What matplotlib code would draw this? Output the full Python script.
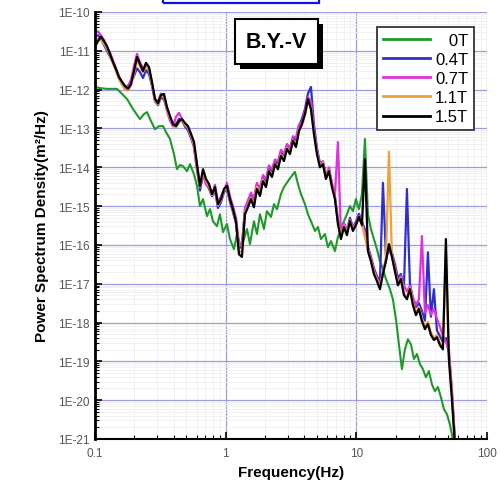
import numpy as np
import matplotlib
matplotlib.use("Agg")
import matplotlib.pyplot as plt
from matplotlib.patches import Rectangle
from matplotlib.ticker import LogLocator, NullFormatter, FixedLocator, FixedFormatter

plt.rcParams['font.family'] = ['Liberation Sans', 'DejaVu Sans']

# ---------------- data ----------------
series_labels = ['\u2008\u20070T', '0.4T', '0.7T', '1.1T', '1.5T']
series_colors = ['#1f9a2a', '#2f2fd0', '#e030e0', '#f0a038', '#000000']

freq_0T = [0.1, 0.1092, 0.1235, 0.1474, 0.1609, 0.1757, 0.1953, 0.2210, 0.2370, 0.2500,
           0.2683, 0.2878, 0.3089, 0.3314, 0.3556, 0.3749, 0.4022, 0.4240, 0.4470, 0.4713,
           0.5058, 0.5333, 0.5723, 0.6033, 0.6360, 0.6706, 0.7193, 0.7584, 0.7996, 0.8578,
           0.9045, 0.9535, 1.023, 1.079, 1.157, 1.220, 1.310, 1.380, 1.455, 1.534,
           1.646, 1.736, 1.830, 1.963, 2.070, 2.222, 2.342, 2.469, 2.649, 2.793,
           2.997, 3.159, 3.390, 3.574, 3.768, 4.044, 4.264, 4.495, 4.824, 5.085,
           5.360, 5.752, 6.064, 6.393, 6.860, 7.232, 7.625, 8.036, 8.475, 8.934,
           9.419, 9.929, 10.47, 11.04, 11.64, 12.27, 12.93, 13.64, 14.38, 15.16,
           15.98, 16.85, 18.07, 19.05, 20.09, 21.18, 22.33, 23.54, 24.82, 26.17,
           27.59, 29.09, 30.67, 32.33, 34.08, 35.94, 37.88, 39.94, 42.10, 44.39,
           46.80, 49.33, 52.01, 54.83, 56.80]

# log10 of the power spectral density
log_psd_0T = [-11.93, -11.96, -11.98, -11.98, -12.11, -12.24, -12.50, -12.76, -12.63, -12.58,
              -12.81, -13.02, -12.94, -12.94, -13.14, -13.27, -13.66, -14.05, -13.94, -13.97,
              -14.10, -13.92, -14.18, -14.48, -15.00, -14.82, -15.26, -15.08, -15.39, -15.52,
              -15.21, -15.67, -15.46, -15.85, -16.11, -15.72, -16.06, -15.85, -15.59, -15.98,
              -15.39, -15.72, -15.21, -15.59, -15.13, -15.28, -14.95, -15.08, -14.69, -14.51,
              -14.36, -14.25, -14.12, -14.43, -14.69, -14.95, -15.21, -15.39, -15.64, -15.54,
              -15.85, -15.72, -16.06, -15.90, -16.16, -15.80, -15.59, -15.39, -15.21, -15.00,
              -15.13, -14.82, -15.08, -14.69, -13.27, -15.21, -15.59, -15.85, -16.11, -16.42,
              -16.62, -16.88, -17.14, -17.40, -17.91, -18.56, -19.20, -18.69, -18.43, -18.56,
              -18.94, -18.81, -19.07, -19.20, -19.41, -19.25, -19.59, -19.77, -19.66, -19.92,
              -20.23, -20.36, -20.62, -21.01, -21.26]

freq_field = [0.1000, 0.1054, 0.1111, 0.1172, 0.1235, 0.1302, 0.1373, 0.1447, 0.1526, 0.1609,
              0.1696, 0.1788, 0.1885, 0.1988, 0.2096, 0.2210, 0.2330, 0.2456, 0.2590, 0.2730,
              0.2878, 0.3035, 0.3199, 0.3373, 0.3556, 0.3749, 0.3953, 0.4168, 0.4394, 0.4632,
              0.4884, 0.5149, 0.5429, 0.5723, 0.6034, 0.6362, 0.6707, 0.7071, 0.7455, 0.7860,
              0.8284, 0.8732, 0.9205, 0.9705, 1.023, 1.079, 1.137, 1.199, 1.264, 1.332,
              1.405, 1.481, 1.561, 1.646, 1.735, 1.830, 1.929, 2.034, 2.144, 2.261,
              2.384, 2.513, 2.649, 2.793, 2.944, 3.104, 3.273, 3.450, 3.638, 3.835,
              4.044, 4.263, 4.494, 4.738, 4.995, 5.266, 5.552, 5.853, 6.171, 6.506,
              6.859, 7.231, 7.624, 8.037, 8.474, 8.933, 9.418, 9.929, 10.47, 11.04,
              11.63, 12.27, 12.93, 13.63, 14.37, 15.16, 15.98, 16.85, 17.76, 18.73,
              19.74, 20.81, 21.94, 23.13, 24.39, 25.71, 27.11, 28.58, 30.13, 31.76,
              33.49, 35.30, 37.22, 39.24, 41.37, 43.61, 45.98, 48.47, 51.10, 53.87,
              56.80]

log_psd_04T = [-10.62, -10.60, -10.70, -10.85, -11.00, -11.15, -11.30, -11.50, -11.70, -11.85,
               -11.95, -11.90, -11.80, -11.65, -11.45, -11.55, -11.70, -11.50, -11.60, -11.90,
               -12.30, -12.40, -12.20, -12.25, -12.50, -12.75, -12.85, -12.90, -12.75, -12.80,
               -12.95, -13.05, -13.25, -13.45, -14.00, -14.60, -14.20, -14.40, -14.55, -14.75,
               -14.60, -15.05, -14.90, -14.65, -14.55, -14.90, -15.15, -15.45, -16.10, -16.00,
               -15.10, -14.90, -14.70, -14.85, -14.45, -14.60, -14.25, -14.40, -14.00, -14.10,
               -13.85, -13.90, -13.60, -13.70, -13.45, -13.55, -13.25, -13.30, -12.95, -12.75,
               -12.50, -12.10, -11.93, -12.90, -13.50, -13.90, -13.85, -14.20, -14.05, -14.45,
               -14.75, -15.35, -15.70, -15.45, -15.65, -15.30, -15.55, -15.40, -15.20, -15.40,
               -15.60, -16.05, -16.30, -16.60, -16.80, -16.95, -14.40, -16.30, -16.10, -16.20,
               -16.50, -16.85, -16.75, -17.10, -14.56, -17.00, -17.40, -17.60, -17.50, -17.70,
               -17.95, -16.19, -17.85, -17.14, -18.20, -18.35, -18.50, -18.40, -18.80, -19.80,
               -21.05]

log_psd_07T = [-10.52, -10.50, -10.60, -10.72, -10.90, -11.05, -11.25, -11.45, -11.65, -11.80,
               -11.90, -11.92, -11.75, -11.40, -11.08, -11.30, -11.45, -11.35, -11.50, -11.85,
               -12.25, -12.30, -12.10, -12.20, -12.55, -12.80, -12.95, -12.70, -12.60, -12.75,
               -12.90, -13.00, -13.20, -13.50, -14.10, -14.50, -14.15, -14.45, -14.50, -14.70,
               -14.45, -14.90, -14.75, -14.60, -14.40, -14.75, -15.00, -15.30, -15.95, -16.05,
               -15.05, -14.85, -14.65, -14.80, -14.40, -14.55, -14.20, -14.30, -13.95, -14.05,
               -13.80, -13.85, -13.55, -13.65, -13.40, -13.50, -13.20, -13.25, -12.90, -12.85,
               -12.55, -12.20, -12.30, -13.05, -13.55, -13.95, -13.85, -14.25, -14.00, -14.40,
               -14.70, -13.35, -15.75, -15.45, -15.60, -15.35, -15.55, -15.45, -15.25, -15.45,
               -15.70, -16.10, -16.35, -16.65, -16.85, -17.00, -16.70, -16.35, -16.15, -16.25,
               -16.60, -16.95, -16.80, -17.05, -17.20, -17.05, -17.35, -17.55, -17.40, -15.77,
               -17.75, -17.55, -17.80, -17.65, -17.90, -18.10, -18.35, -18.50, -18.70, -19.70,
               -21.00]

log_psd_11T = [-10.75, -10.68, -10.72, -10.82, -10.95, -11.12, -11.32, -11.52, -11.72, -11.88,
               -12.00, -12.02, -11.90, -11.60, -11.25, -11.40, -11.55, -11.40, -11.48, -11.85,
               -12.28, -12.38, -12.18, -12.15, -12.48, -12.72, -12.90, -12.98, -12.85, -12.80,
               -12.90, -12.98, -13.18, -13.40, -13.95, -14.50, -14.10, -14.35, -14.48, -14.72,
               -14.55, -14.98, -14.85, -14.60, -14.52, -14.85, -15.10, -15.40, -16.15, -16.20,
               -15.15, -15.00, -14.78, -14.98, -14.50, -14.70, -14.32, -14.48, -14.08, -14.22,
               -13.90, -14.00, -13.68, -13.80, -13.50, -13.62, -13.30, -13.42, -13.05, -12.92,
               -12.65, -12.30, -12.45, -13.10, -13.62, -13.98, -13.88, -14.28, -14.08, -14.48,
               -14.80, -15.42, -15.80, -15.50, -15.70, -15.38, -15.60, -15.48, -15.28, -15.48,
               -15.80, -16.12, -16.40, -16.70, -16.90, -17.08, -16.72, -16.40, -13.60, -16.28,
               -16.65, -17.00, -16.85, -17.25, -17.35, -17.10, -17.50, -17.75, -17.60, -17.90,
               -18.10, -17.98, -18.25, -18.40, -18.32, -18.52, -18.62, -16.20, -18.88, -19.90,
               -21.10]

log_psd_15T = [-10.90, -10.75, -10.64, -10.75, -10.88, -11.08, -11.29, -11.47, -11.68, -11.80,
               -11.91, -11.98, -11.86, -11.52, -11.16, -11.34, -11.52, -11.31, -11.42, -11.80,
               -12.24, -12.35, -12.14, -12.11, -12.45, -12.68, -12.89, -12.94, -12.81, -12.76,
               -12.86, -12.94, -13.14, -13.35, -13.92, -14.48, -14.05, -14.30, -14.43, -14.69,
               -14.51, -14.95, -14.82, -14.56, -14.48, -14.82, -15.08, -15.39, -16.24, -16.31,
               -15.21, -15.03, -14.82, -15.03, -14.56, -14.74, -14.36, -14.51, -14.10, -14.25,
               -13.92, -14.05, -13.71, -13.84, -13.53, -13.66, -13.32, -13.48, -13.07, -12.89,
               -12.63, -12.24, -12.50, -13.14, -13.66, -14.00, -13.92, -14.30, -14.10, -14.51,
               -14.82, -15.46, -15.85, -15.54, -15.75, -15.39, -15.64, -15.49, -15.28, -15.49,
               -13.79, -16.16, -16.42, -16.75, -16.93, -17.14, -16.75, -16.42, -15.98, -16.31,
               -16.68, -17.04, -16.88, -17.29, -17.40, -17.14, -17.55, -17.81, -17.65, -17.96,
               -18.17, -18.04, -18.32, -18.45, -18.38, -18.58, -18.69, -15.85, -18.94, -19.97,
               -21.13]

x_ticks = [0.1, 1, 10, 100]
x_tick_labels = ['0.1', '1', '10', '100']
y_ticks = [1e-21, 1e-20, 1e-19, 1e-18, 1e-17, 1e-16, 1e-15, 1e-14, 1e-13, 1e-12, 1e-11, 1e-10]
y_tick_labels = ['1E-21', '1E-20', '1E-19', '1E-18', '1E-17', '1E-16', '1E-15',
                 '1E-14', '1E-13', '1E-12', '1E-11', '1E-10']

# ---------------- figure ----------------
W, H = 500, 485
fig = plt.figure(figsize=(W / 100, H / 100), dpi=100)
ax = fig.add_axes([95 / W, 1 - 440 / H, 392 / W, 427 / H])

xs = [freq_0T, freq_field, freq_field, freq_field, freq_field]
ys = [log_psd_0T, log_psd_04T, log_psd_07T, log_psd_11T, log_psd_15T]
widths = [1.5, 1.6, 1.6, 1.6, 1.6]
for f, lp, lab, col, lw in zip(xs, ys, series_labels, series_colors, widths):
    ax.plot(f, 10.0 ** np.array(lp), color=col, lw=lw, label=lab)

ax.set_xscale('log')
ax.set_yscale('log')
ax.set_xlim(0.1, 100)
ax.set_ylim(1e-21, 1e-10)

ax.xaxis.set_major_locator(FixedLocator(x_ticks))
ax.xaxis.set_major_formatter(FixedFormatter(x_tick_labels))
ax.yaxis.set_major_locator(FixedLocator(y_ticks))
ax.yaxis.set_major_formatter(FixedFormatter(y_tick_labels))
ax.xaxis.set_minor_locator(LogLocator(base=10, subs=np.arange(2, 10), numticks=100))
ax.yaxis.set_minor_locator(LogLocator(base=10, subs=np.arange(2, 10), numticks=100))
ax.xaxis.set_minor_formatter(NullFormatter())
ax.yaxis.set_minor_formatter(NullFormatter())

ax.grid(which='major', color='#9c9ce0', lw=0.9)
ax.grid(which='minor', color='#efefef', lw=0.6)
ax.set_axisbelow(True)

ax.tick_params(which='both', direction='in', top=False, right=False,
               labelsize=8.5, labelcolor='#555555')
ax.tick_params(which='major', length=5, width=1.2)
ax.tick_params(which='minor', length=3, width=0.8)
ax.tick_params(axis='x', pad=6)
ax.tick_params(axis='y', pad=4)

for s in ['top', 'right']:
    ax.spines[s].set_visible(False)
ax.spines['left'].set_linewidth(2.0)
ax.spines['bottom'].set_linewidth(1.5)

ax.set_xlabel('Frequency(Hz)', fontsize=11, fontweight='bold', labelpad=4)
ax.set_ylabel('Power Spectrum Density(m\u00b2/Hz)', fontsize=11, fontweight='bold', labelpad=6)

leg = ax.legend(loc='upper right', bbox_to_anchor=(0.967, 0.965), fontsize=12,
                frameon=True, fancybox=False, framealpha=1, edgecolor='#333333',
                handlelength=2.8, handletextpad=0.3, labelspacing=0.25,
                borderpad=0.35, borderaxespad=0)
leg.get_frame().set_linewidth(1.3)
for line in leg.get_lines():
    line.set_linewidth(2.0)

# title box with shadow
fig.add_artist(Rectangle((240 / W, 1 - 70 / H), 83 / W, 45 / H, transform=fig.transFigure,
                         facecolor='black', edgecolor='black', lw=0))
fig.add_artist(Rectangle((235 / W, 1 - 65 / H), 83 / W, 45 / H, transform=fig.transFigure,
                         facecolor='white', edgecolor='black', lw=1.5))
fig.text(276.5 / W, 1 - 43 / H, 'B.Y.-V', ha='center', va='center',
         fontsize=15.5, fontweight='bold')

# partial blue box at the top edge
fig.add_artist(Rectangle((163 / W, 1 - 4 / H), 156 / W, 0.05, transform=fig.transFigure,
                         facecolor='none', edgecolor='#1010ee', lw=1.6))

fig.savefig('out.png', dpi=100)
